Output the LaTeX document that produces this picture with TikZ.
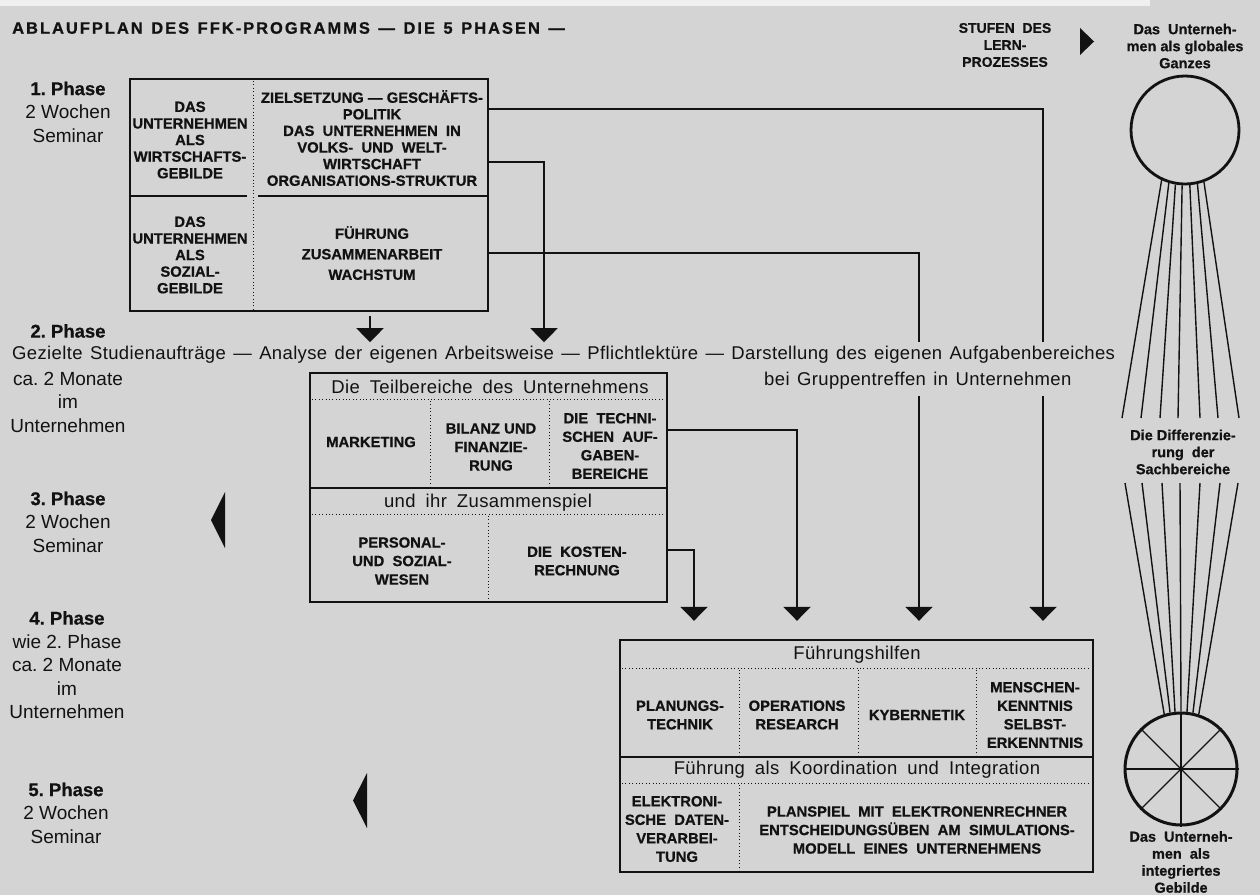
\documentclass[tikz,border=0pt]{standalone}
\usepackage{fontspec}
\setmainfont{Liberation Sans}[BoldFeatures={FakeBold=0.7}]
\newfontfamily\titlefam{Liberation Sans}[LetterSpace=12, WordSpace=1.3, BoldFeatures={FakeBold=0.8}]
\newfontfamily\spreadfam{Liberation Sans}[LetterSpace=2, WordSpace=1.5]
\newfontfamily\headfam{Liberation Sans}[LetterSpace=2, WordSpace=1.35]
\usetikzlibrary{arrows.meta}

\definecolor{paper}{RGB}{212,212,212}
\definecolor{ink}{RGB}{18,18,18}

\newcommand\phtitle[1]{{\fontsize{18.5}{23.5}\selectfont\bfseries #1}}

\tikzset{
  boxframe/.style={draw=ink, line width=2.4pt, inner sep=0pt},
  conn/.style={draw=ink, line width=2.2pt},
  downtip/.style={-{Triangle[width=27pt,length=14pt]}},
  dotrule/.style={draw=ink, line width=1pt, dash pattern=on 1pt off 2.4pt},
  solidrule/.style={draw=ink, line width=2.2pt},
  capstext/.style={font=\fontsize{14.8}{18.5}\selectfont\bfseries, align=center, inner sep=0pt, text=ink},
  capsnarrow/.style={capstext, font=\fontsize{14.8}{16.6}\selectfont\bfseries},
  headtext/.style={font=\headfam\fontsize{18.5}{22}\selectfont, inner sep=0pt, text=ink},
  phasetext/.style={font=\fontsize{19}{23.5}\selectfont, align=center, inner sep=0pt, text=ink},
  sidelabel/.style={font=\fontsize{14.5}{17}\selectfont\bfseries, align=center, inner sep=0pt, text=ink},
  fanline/.style={draw=ink, line width=1.4pt},
  spokeline/.style={draw=ink, line width=1.3pt},
  markfill/.style={fill=ink},
}

\begin{document}
\begin{tikzpicture}[x=1pt,y=-1pt]
\useasboundingbox (0,0) rectangle (1260,895);
\fill[paper] (0,0) rectangle (1260,895);
\fill[paper!35!white] (0,0) rectangle (1150,6);

% heading
\node[anchor=west, inner sep=0pt, font=\titlefam\fontsize{16.5}{20}\selectfont\bfseries, text=ink] (title) at (12,28)
  {ABLAUFPLAN DES FFK-PROGRAMMS — DIE 5 PHASEN —};

% phase column
\node[phasetext] (ph1) at (68,112) {\phtitle{1.~Phase}\\2~Wochen\\Seminar};
\node[phasetext] (ph2) at (68,331) {\phtitle{2.~Phase}};
\node[anchor=west, font=\spreadfam\fontsize{18.5}{22}\selectfont, inner xsep=0pt, inner ysep=4pt, text=ink] (p2line) at (12,355)
  {Gezielte Studienaufträge — Analyse der eigenen Arbeitsweise — Pflichtlektüre — Darstellung des eigenen Aufgabenbereiches};
\node[anchor=west, font=\spreadfam\fontsize{18.5}{22}\selectfont, inner xsep=0pt, inner ysep=6pt, text=ink] (p2line2) at (764,381)
  {bei Gruppentreffen in Unternehmen};
\node[phasetext] (ph2b) at (68,402) {ca.~2~Monate\\im\\Unternehmen};
\node[phasetext] (ph3) at (68,522) {\phtitle{3.~Phase}\\2~Wochen\\Seminar};
\node[phasetext] (ph4) at (67,665) {\phtitle{4.~Phase}\\wie~2.~Phase\\ca.~2~Monate\\im\\Unternehmen};
\node[phasetext] (ph5) at (66,813) {\phtitle{5.~Phase}\\2~Wochen\\Seminar};

% seminar markers
\fill[markfill] (225,492) -- (225,548) -- (211,520) -- cycle;
\fill[markfill] (367,773) -- (367,828) -- (353,800.5) -- cycle;
\fill[markfill] (1080,28) -- (1080,55) -- (1094,41.5) -- cycle;

% block 1
\node[boxframe, minimum width=358pt, minimum height=232pt] (b1) at (309,195) {};
\draw[dotrule] (253,81) -- (253,309);
\draw[solidrule] (130,196) -- (247,196);
\draw[solidrule] (258,196) -- (488,196);
\node[capsnarrow] (t11) at (190,140) {DAS\\UNTERNEHMEN\\ALS\\WIRTSCHAFTS-\\GEBILDE};
\node[capsnarrow] (t12) at (372,138) {ZIELSETZUNG — GESCHÄFTS-\\POLITIK\\DAS~~UNTERNEHMEN~~IN\\VOLKS-~~UND~~WELT-\\WIRTSCHAFT\\ORGANISATIONS-STRUKTUR};
\node[capsnarrow] (t13) at (190,255) {DAS\\UNTERNEHMEN\\ALS\\SOZIAL-\\GEBILDE};
\node[capstext, font=\fontsize{14.8}{20.5}\selectfont\bfseries] (t14) at (372,253) {FÜHRUNG\\ZUSAMMENARBEIT\\WACHSTUM};

% block 2
\node[boxframe, minimum width=357pt, minimum height=229pt] (b2) at (488.5,487.5) {};
\draw[dotrule] (312,399) -- (665,399);
\draw[dotrule] (430,401) -- (430,486);
\draw[dotrule] (549,401) -- (549,486);
\draw[solidrule] (310,488) -- (667,488);
\draw[dotrule] (312,514) -- (665,514);
\draw[dotrule] (488,516) -- (488,600);
\node[headtext] (t20) at (490,387) {Die Teilbereiche des Unternehmens};
\node[capstext] (t21) at (371,442) {MARKETING};
\node[capstext] (t22) at (491,447) {BILANZ UND\\FINANZIE-\\RUNG};
\node[capstext] (t23) at (610,446) {DIE~~TECHNI-\\SCHEN~~AUF-\\GABEN-\\BEREICHE};
\node[headtext] (t24) at (488,503) {und ihr Zusammenspiel};
\node[capstext] (t25) at (402,561) {PERSONAL-\\UND~~SOZIAL-\\WESEN};
\node[capstext] (t26) at (577,561) {DIE~~KOSTEN-\\RECHNUNG};

% block 3
\node[boxframe, minimum width=473pt, minimum height=232pt] (b3) at (856.5,756) {};
\draw[dotrule] (622,668) -- (1091,668);
\draw[dotrule] (739,670) -- (739,755);
\draw[dotrule] (858,670) -- (858,755);
\draw[dotrule] (976,670) -- (976,755);
\draw[solidrule] (620,757) -- (1093,757);
\draw[dotrule] (622,783) -- (1091,783);
\draw[dotrule] (739,785) -- (739,870);
\node[headtext] (t30) at (857,655) {Führungshilfen};
\node[capstext] (t31) at (680,715) {PLANUNGS-\\TECHNIK};
\node[capstext] (t32) at (797,715) {OPERATIONS\\RESEARCH};
\node[capstext] (t33) at (917,715) {KYBERNETIK};
\node[capstext] (t34) at (1035,715) {MENSCHEN-\\KENNTNIS\\SELBST-\\ERKENNTNIS};
\node[headtext] (t35) at (857,770) {Führung als Koordination und Integration};
\node[capstext] (t36) at (677,829) {ELEKTRONI-\\SCHE~~DATEN-\\VERARBEI-\\TUNG};
\node[capstext] (t37) at (917,830) {PLANSPIEL~~MIT~~ELEKTRONENRECHNER\\ENTSCHEIDUNGSÜBEN~~AM~~SIMULATIONS-\\MODELL~~EINES~~UNTERNEHMENS};

% drop columns of the connectors
\coordinate (k1) at (1043,0);
\coordinate (k2) at (544,0);
\coordinate (k3) at (370,0);
\coordinate (k4) at (919,0);
\coordinate (k5) at (797,0);
\coordinate (k6) at (694,0);

% connectors
\draw[conn] ([yshift=86pt]b1.east) -| (p2line.north -| k1);
\draw[conn,downtip,shorten >=18pt] (p2line2.south -| k1) -- (k1 |- b3.north);
\draw[conn,downtip] ([yshift=33pt]b1.east) -| (p2line.north -| k2);
\draw[conn,downtip,shorten <=4pt] (b1.south -| k3) -- (p2line.north -| k3);
\draw[conn] ([yshift=-58pt]b1.east) -| (p2line.north -| k4);
\draw[conn,downtip,shorten >=18pt] (p2line2.south -| k4) -- (k4 |- b3.north);
\draw[conn,downtip,shorten >=18pt] ([yshift=57.5pt]b2.east) -| (k5 |- b3.north);
\draw[conn,downtip,shorten >=18pt] ([yshift=-62.5pt]b2.east) -| (k6 |- b3.north);

% learning stages
\node[sidelabel, font=\fontsize{14}{17}\selectfont\bfseries] (stufen) at (1005,45) {STUFEN~~DES\\LERN-\\PROZESSES};
\node[sidelabel] (globlabel) at (1185,46) {Das~~Unterneh-\\men als globales\\Ganzes};
\node[circle, draw=ink, line width=2.8pt, minimum size=108pt, inner sep=0pt] (topball) at (1185,130) {};
\foreach \a/\xb in {245/1122, 253/1141, 260/1160, 267/1178, 275/1200, 283/1218, 290/1239}
  \draw[fanline] (topball.\a) -- (\xb,418);
\node[sidelabel] (difflabel) at (1183,452) {Die~Differenzie-\\rung~~der\\Sachbereiche};
\node[circle, draw=ink, line width=3pt, minimum size=112pt, inner sep=0pt] (botball) at (1181,769) {};
\foreach \xt/\a in {1125/107, 1142/101, 1162/96, 1180/90, 1200/84, 1220/78, 1238/72}
  \draw[fanline] (\xt,483) -- (botball.\a);
\foreach \a in {0,45,...,315}
  \draw[spokeline] (botball.center) -- (botball.\a);
\node[sidelabel] (intlabel) at (1181,862) {Das~~Unterneh-\\men~~als\\integriertes\\Gebilde};
\end{tikzpicture}
\end{document}
